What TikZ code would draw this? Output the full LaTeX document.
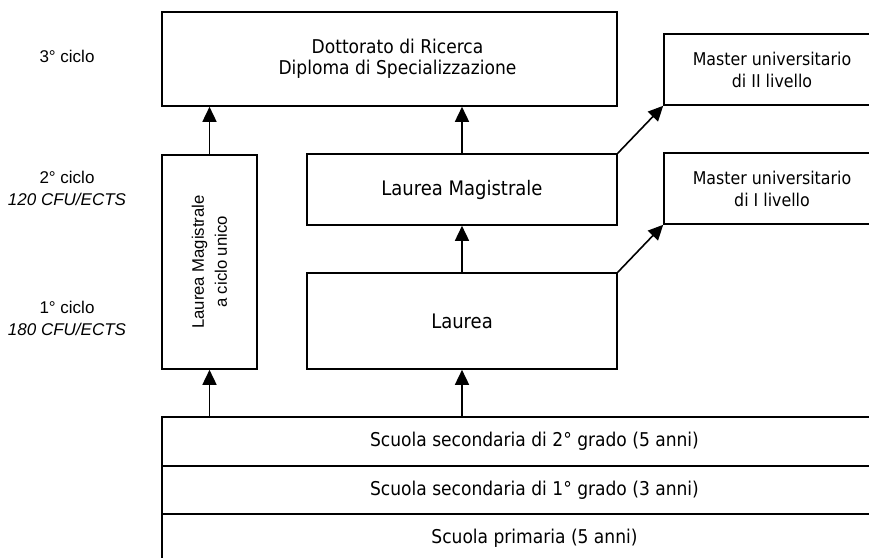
\documentclass[tikz,border=0pt]{standalone}
\usepackage{fontspec}
\setmainfont{DejaVu Sans Condensed}
\newfontfamily\ciclofont{Liberation Sans}
\usetikzlibrary{arrows.meta}

\begin{document}
\begin{tikzpicture}[x=1pt,y=-1pt,
box/.style={draw, line width=1.6pt, align=center, inner sep=0pt},
big/.style={font=\fontsize{20}{22}\selectfont},
dottfont/.style={font=\fontsize{19}{21}\selectfont},
small/.style={font=\fontsize{17.6}{22}\selectfont},
school/.style={font=\fontsize{19}{21}\selectfont},
ciclo/.style={align=center, font=\ciclofont\fontsize{17}{22}\selectfont},
up/.style={line width=1.6pt, -{Triangle[width=14pt,length=15pt]}}]
\clip (0,0) rectangle (869,557);
% universita'
\node[box,dottfont,minimum width=455pt,minimum height=94pt] (dott) at (389.5,59) {\hspace*{16pt}Dottorato di Ricerca\\\hspace*{16pt}Diploma di Specializzazione};
\node[box,small,minimum width=216pt,minimum height=71pt] (mast2) at (772,69.5) {Master universitario\\di II livello};
\node[box,small,minimum width=216pt,minimum height=71pt] (mast1) at (772,188.5) {Master universitario\\di I livello};
\node[box,big,minimum width=310pt,minimum height=71pt] (lm) at (462,189.5) {Laurea Magistrale};
\node[box,big,minimum width=310pt,minimum height=96pt] (laurea) at (462,321) {Laurea};
\node[box,minimum width=95pt,minimum height=214pt] (lmcu) at (209.5,262) {};
\node[rotate=90,align=center,font=\ciclofont\fontsize{16.7}{23}\selectfont] (lmcutext) at (lmcu) {Laurea Magistrale\\a ciclo unico};
% scuola
\node[box,school,minimum width=745pt,minimum height=49pt] (sec2) at (534.5,441.5) {Scuola secondaria di 2° grado (5 anni)};
\node[box,school,minimum width=745pt,minimum height=48pt] (sec1) at (534.5,490) {Scuola secondaria di 1° grado (3 anni)};
\node[box,school,minimum width=745pt,minimum height=49pt] (prim) at (534.5,538.5) {Scuola primaria (5 anni)};
% cicli
\node[ciclo] (c3) at (67,56) {3° ciclo};
\node[ciclo] (c2) at (67,188) {2° ciclo\\\textit{120 CFU/ECTS}};
\node[ciclo] (c1) at (67,318) {1° ciclo\\\textit{180 CFU/ECTS}};
% frecce
\draw[up] (lmcu.north) -- (lmcu.north |- dott.south);
\draw[up] (lm.north) -- (lm.north |- dott.south);
\draw[up] (laurea.north) -- (lm.south);
\draw[up] (lm.north east) -- (mast2.south west);
\draw[up] (laurea.north east) -- (mast1.south west);
\draw[up] (sec2.north -| lmcu.south) -- (lmcu.south);
\draw[up] (sec2.north -| laurea.south) -- (laurea.south);
\end{tikzpicture}
\end{document}
